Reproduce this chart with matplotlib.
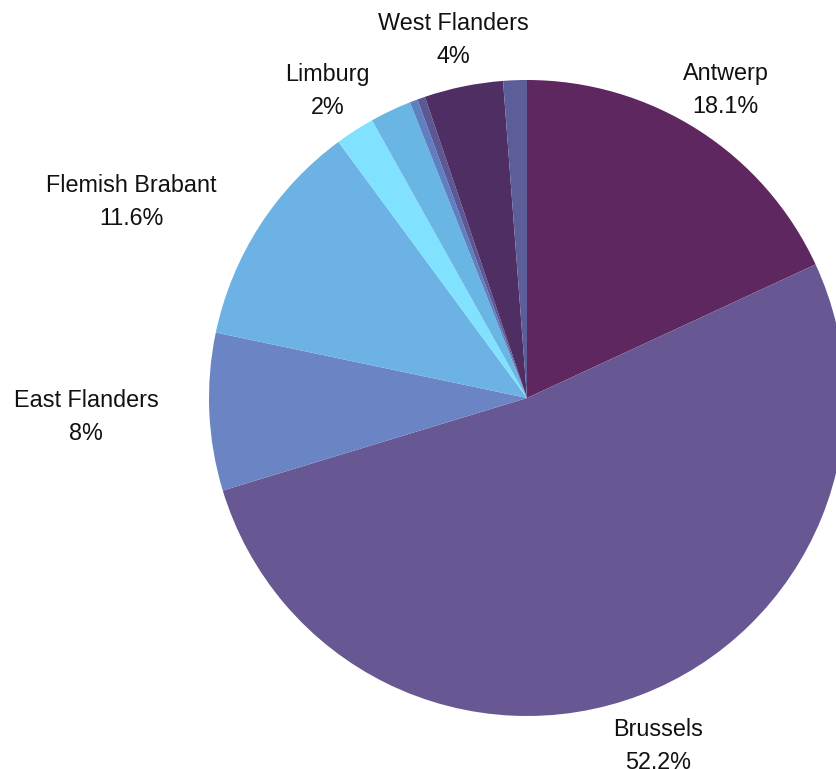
import numpy as np
import matplotlib
matplotlib.use("Agg")
import matplotlib.pyplot as plt

labels = ["Antwerp", "Brussels", "East Flanders", "Flemish Brabant", "Limburg",
          "", "", "", "West Flanders", ""]
values = [18.1, 52.2, 8.0, 11.6, 2.0, 2.1, 0.4, 0.4, 4.0, 1.2]
pct_text = ["18.1%", "52.2%", "8%", "11.6%", "2%", "", "", "", "4%", ""]
colors = ["#5e2760", "#675893", "#6a84c4", "#6cb2e4", "#80e2ff",
          "#69b5e4", "#5f7fc0", "#5b5895", "#4f2f63", "#5b5e98"]

plt.rcParams["font.family"] = ["Liberation Sans", "DejaVu Sans"]

W, H = 836, 769
cx, cy, r = 527, 398, 318
fig = plt.figure(figsize=(W / 100, H / 100), dpi=100)
ax = fig.add_axes([(cx - r) / W, (H - cy - r) / H, 2 * r / W, 2 * r / H])

wedges, _ = ax.pie(values, colors=colors, startangle=90, counterclock=False,
                   radius=1.0, wedgeprops=dict(linewidth=0))
ax.set_xlim(-1, 1)
ax.set_ylim(-1, 1)
ax.set_aspect("equal")
ax.axis("off")

for w, lab, pt in zip(wedges, labels, pct_text):
    if not lab:
        continue
    ang = np.deg2rad((w.theta1 + w.theta2) / 2)
    x, y = 1.16 * np.cos(ang), 1.16 * np.sin(ang) - 0.01
    if abs(np.cos(ang)) > 0.75:
        ha = "left" if x > 0 else "right"
    else:
        ha = "center"
    ax.text(x, y, lab + "\n" + pt, ha=ha, va="center", multialignment="center",
            fontsize=16.8, linespacing=1.55, color="#111111", clip_on=False)

fig.savefig("out.png", dpi=100)
